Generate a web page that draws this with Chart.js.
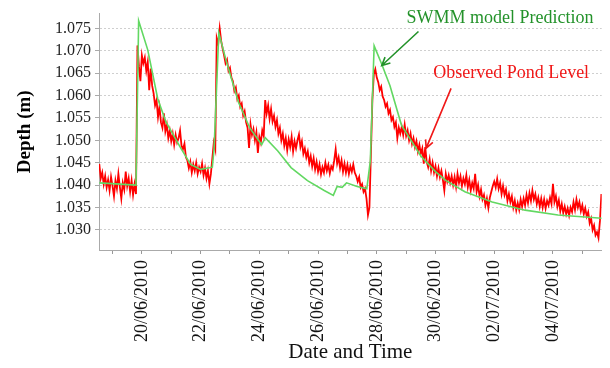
<!DOCTYPE html>
<html>
<head>
<meta charset="utf-8">
<title>Pond depth</title>
<script src="https://cdn.jsdelivr.net/npm/chart.js@4.4.1/dist/chart.umd.min.js"></script>
<style>
    html, body { margin: 0; padding: 0; background: #fff; }
    #wrap { width: 610px; height: 368px; position: relative; }
</style>
</head>
<body>
<div id="wrap"><canvas id="depthChart" width="610" height="368"></canvas></div>
<script>
// x values are days counted from 1 June 2010 (1 July = day 31)
const xMin = 18.54;
const xMax = 35.66;
const yMin = 1.0255;
const yMax = 1.0783;

// observed pond level, logged every 0.05 day from day 18.55 (one row = one day)
const obsStart = 18.55;
const obsStep = 0.05;
const observedLevel = [
    1.0447, 1.0415, 1.0428, 1.0402, 1.0420, 1.0395, 1.0412, 1.0388, 1.0418, 1.0398,
    1.0375, 1.0410, 1.0392, 1.0425, 1.0396, 1.0370, 1.0405, 1.0390, 1.0430, 1.0398,
    1.0415, 1.0385, 1.0410, 1.0378, 1.0402, 1.0380, 1.0712, 1.0665, 1.0632, 1.0690,
    1.0672, 1.0685, 1.0655, 1.0675, 1.0612, 1.0660, 1.0622, 1.0605, 1.0578, 1.0590,
    1.0552, 1.0575, 1.0540, 1.0528, 1.0560, 1.0520, 1.0535, 1.0505, 1.0522, 1.0498,
    1.0515, 1.0490, 1.0512, 1.0495, 1.0505, 1.0522, 1.0488, 1.0480, 1.0492, 1.0462,
    1.0455, 1.0438, 1.0452, 1.0428, 1.0446, 1.0432, 1.0450, 1.0425, 1.0440, 1.0430,
    1.0448, 1.0422, 1.0438, 1.0415, 1.0432, 1.0403, 1.0425, 1.0460, 1.0495, 1.0480,
    1.0728, 1.0715, 1.0750, 1.0722, 1.0705, 1.0690, 1.0672, 1.0680, 1.0655, 1.0662,
    1.0640, 1.0632, 1.0610, 1.0618, 1.0592, 1.0600, 1.0575, 1.0582, 1.0555, 1.0565,
    1.0540, 1.0528, 1.0483, 1.0535, 1.0512, 1.0525, 1.0500, 1.0518, 1.0472, 1.0508,
    1.0495, 1.0522, 1.0510, 1.0590, 1.0560, 1.0578, 1.0548, 1.0570, 1.0542, 1.0555,
    1.0530, 1.0545, 1.0515, 1.0528, 1.0500, 1.0515, 1.0488, 1.0505, 1.0478, 1.0502,
    1.0485, 1.0508, 1.0475, 1.0498, 1.0482, 1.0500, 1.0513, 1.0485, 1.0498, 1.0470,
    1.0482, 1.0462, 1.0475, 1.0450, 1.0465, 1.0442, 1.0460, 1.0435, 1.0452, 1.0430,
    1.0446, 1.0424, 1.0440, 1.0428, 1.0450, 1.0432, 1.0445, 1.0426, 1.0442, 1.0435,
    1.0455, 1.0480, 1.0448, 1.0462, 1.0438, 1.0455, 1.0430, 1.0448, 1.0428, 1.0445,
    1.0425, 1.0442, 1.0430, 1.0446, 1.0428, 1.0420, 1.0408, 1.0418, 1.0395, 1.0402,
    1.0385, 1.0392, 1.0370, 1.0333, 1.0350, 1.0470, 1.0590, 1.0648, 1.0659, 1.0640,
    1.0630, 1.0612, 1.0620, 1.0598, 1.0590, 1.0575, 1.0582, 1.0560, 1.0568, 1.0545,
    1.0552, 1.0530, 1.0540, 1.0505, 1.0528, 1.0515, 1.0530, 1.0512, 1.0535, 1.0510,
    1.0522, 1.0500, 1.0515, 1.0492, 1.0505, 1.0485, 1.0498, 1.0475, 1.0490, 1.0470,
    1.0482, 1.0448, 1.0485, 1.0452, 1.0440, 1.0458, 1.0432, 1.0450, 1.0428, 1.0442,
    1.0420, 1.0438, 1.0418, 1.0432, 1.0412, 1.0388, 1.0425, 1.0408, 1.0422, 1.0405,
    1.0420, 1.0400, 1.0418, 1.0396, 1.0425, 1.0405, 1.0420, 1.0398, 1.0415, 1.0402,
    1.0422, 1.0395, 1.0412, 1.0388, 1.0405, 1.0392, 1.0425, 1.0385, 1.0400, 1.0375,
    1.0390, 1.0368, 1.0378, 1.0355, 1.0370, 1.0349, 1.0372, 1.0385, 1.0398, 1.0408,
    1.0395, 1.0414, 1.0392, 1.0405, 1.0380, 1.0398, 1.0378, 1.0390, 1.0365, 1.0380,
    1.0362, 1.0375, 1.0350, 1.0365, 1.0344, 1.0360, 1.0345, 1.0368, 1.0352, 1.0370,
    1.0355, 1.0378, 1.0360, 1.0382, 1.0365, 1.0388, 1.0368, 1.0380, 1.0358, 1.0372,
    1.0352, 1.0370, 1.0350, 1.0368, 1.0348, 1.0365, 1.0355, 1.0372, 1.0358, 1.0403,
    1.0362, 1.0375, 1.0352, 1.0366, 1.0342, 1.0358, 1.0338, 1.0352, 1.0335, 1.0348,
    1.0332, 1.0350, 1.0340, 1.0362, 1.0345, 1.0368, 1.0350, 1.0362, 1.0342, 1.0355,
    1.0335, 1.0348, 1.0330, 1.0340, 1.0315, 1.0325, 1.0300, 1.0310, 1.0288, 1.0295,
    1.0282, 1.0320, 1.0380
];

// SWMM model prediction (breakpoints)
const swmmTime = [
    18.55, 19.80, 19.89, 20.20, 20.54, 20.82, 21.32, 21.66, 22.00, 22.40,
    22.46, 22.62, 22.89, 23.29, 23.68, 24.08, 24.20, 24.63, 25.08, 25.64,
    26.21, 26.52, 26.65, 26.82, 26.97, 27.33, 27.66, 27.78, 27.91, 28.17,
    28.45, 28.84, 29.50, 30.00, 30.36, 31.00, 31.93, 33.05, 34.17, 35.66
];
const swmmLevel = [
    1.0405, 1.0400, 1.0767, 1.0702, 1.0593, 1.0541, 1.0483, 1.0446, 1.0435, 1.0440,
    1.0482, 1.0740, 1.0673, 1.0585, 1.0527, 1.0490, 1.0506, 1.0476, 1.0439, 1.0410,
    1.0388, 1.0377, 1.0397, 1.0395, 1.0405, 1.0397, 1.0392, 1.0454, 1.0711, 1.0670,
    1.0622, 1.0534, 1.0465, 1.0430, 1.0410, 1.0385, 1.0362, 1.0344, 1.0333, 1.0326
];

// annotation text and arrows, in data units
const notes = [
    { text: "SWMM model Prediction", color: "#23922a", x: 29.01, y: 1.0772,
      from: [29.42, 1.0743], to: [28.17, 1.0667] },
    { text: "Observed Pond Level", color: "#f01818", x: 29.92, y: 1.0649,
      from: [30.53, 1.0616], to: [29.68, 1.0482] }
];

const serif = "'Liberation Serif', 'Times New Roman', serif";

function dayLabel(v) {
    const d = Math.round(v);
    const day = d > 30 ? d - 30 : d;
    const month = d > 30 ? "07" : "06";
    return String(day).padStart(2, "0") + "/" + month + "/2010";
}

document.addEventListener("DOMContentLoaded", function () {
    const observedPts = observedLevel.map((v, i) => ({ x: obsStart + i * obsStep, y: v }));
    const swmmPts = swmmTime.map((t, i) => ({ x: t, y: swmmLevel[i] }));

    // ===== arrows + labels =====
    const notePlugin = {
        id: "notes",
        afterDatasetsDraw(chart) {
            const ctx = chart.ctx;
            const xs = chart.scales.x;
            const ys = chart.scales.y;
            notes.forEach((n) => {
                const x1 = xs.getPixelForValue(n.from[0]);
                const y1 = ys.getPixelForValue(n.from[1]);
                const x2 = xs.getPixelForValue(n.to[0]);
                const y2 = ys.getPixelForValue(n.to[1]);
                const ang = Math.atan2(y2 - y1, x2 - x1);
                ctx.save();
                ctx.strokeStyle = n.color;
                ctx.lineWidth = 1.6;
                ctx.beginPath();
                ctx.moveTo(x1, y1);
                ctx.lineTo(x2, y2);
                ctx.moveTo(x2 - 9 * Math.cos(ang - 0.45), y2 - 9 * Math.sin(ang - 0.45));
                ctx.lineTo(x2, y2);
                ctx.lineTo(x2 - 9 * Math.cos(ang + 0.45), y2 - 9 * Math.sin(ang + 0.45));
                ctx.stroke();
                ctx.fillStyle = n.color;
                ctx.font = "18px " + serif;
                ctx.textAlign = "left";
                ctx.textBaseline = "middle";
                ctx.fillText(n.text, xs.getPixelForValue(n.x), ys.getPixelForValue(n.y));
                ctx.restore();
            });
        }
    };

    const ctx = document.getElementById("depthChart").getContext("2d");
    new Chart(ctx, {
        type: "line",
        data: {
            datasets: [{
                label: "SWMM model Prediction",
                data: swmmPts,
                borderColor: "#62d862",
                borderWidth: 1.6,
                pointRadius: 0,
                fill: false
            }, {
                label: "Observed Pond Level",
                data: observedPts,
                borderColor: "#ff0000",
                borderWidth: 1.8,
                pointRadius: 0,
                fill: false
            }]
        },
        options: {
            responsive: false,
            animation: false,
            layout: { padding: { top: 10, right: 2, left: 0, bottom: 0 } },
            plugins: {
                legend: { display: false },
                tooltip: { enabled: false }
            },
            scales: {
                x: {
                    type: "linear",
                    min: xMin,
                    max: xMax,
                    afterFit: (s) => { s.height = 118; },
                    grid: { drawOnChartArea: false, tickLength: 4, color: "#999" },
                    border: { color: "#aaa" },
                    ticks: {
                        stepSize: 1,
                        includeBounds: false,
                        autoSkip: false,
                        maxRotation: 90,
                        minRotation: 90,
                        padding: 6,
                        color: "#111",
                        font: { family: serif, size: 18 },
                        callback: (v) => (Math.round(v) % 2 === 0 ? dayLabel(v) : "")
                    },
                    title: {
                        display: true,
                        text: "Date and Time",
                        color: "#111",
                        font: { family: serif, size: 21 },
                        padding: { top: 0, bottom: 3 }
                    }
                },
                y: {
                    min: yMin,
                    max: yMax,
                    afterFit: (s) => { s.width = 99; },
                    grid: { color: "#cfcfcf", tickLength: 4, tickColor: "#aaa" },
                    border: { color: "#aaa", dash: [2, 2] },
                    ticks: {
                        stepSize: 0.005,
                        includeBounds: false,
                        padding: 4,
                        color: "#222",
                        font: { family: serif, size: 16 },
                        callback: (v) => v.toFixed(3)
                    },
                    title: {
                        display: true,
                        text: "Depth (m)",
                        color: "#000",
                        font: { family: serif, size: 19, weight: "bold" },
                        padding: { top: 14, bottom: 0 }
                    }
                }
            }
        },
        plugins: [notePlugin]
    });
});
</script>
</body>
</html>
